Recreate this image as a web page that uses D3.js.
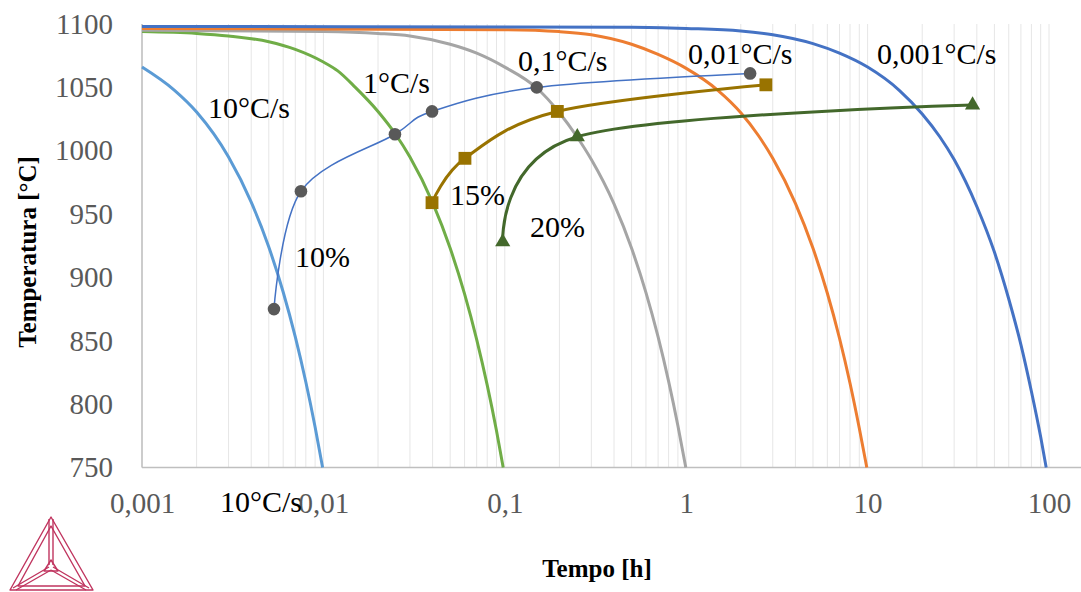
<!DOCTYPE html>
<html><head><meta charset="utf-8">
<script src="https://cdn.jsdelivr.net/npm/d3@7/dist/d3.min.js"></script>
<style>body{margin:0;background:#fff}svg{display:block}</style>
</head><body>
<svg id="chart" width="1081" height="592"></svg>
<script>
// ---------- data ----------
const timeTicks = [0.001, 0.01, 0.1, 1, 10, 100];
const timeTickLabels = ["0,001", "0,01", "0,1", "1", "10", "100"];
const tempTicks = [750, 800, 850, 900, 950, 1000, 1050, 1100];

// cooling curves (time in h, temperature in °C)
const rate10Time = [0.001, 0.0015, 0.002, 0.003, 0.004, 0.005, 0.006, 0.007, 0.008, 0.009, 0.0099];
const rate10Temp = [1066, 1048, 1030.5, 995, 959.5, 924, 888.5, 853, 817.5, 782, 750];

const rate1Time = [0.001, 0.002, 0.003, 0.005, 0.007, 0.01, 0.012, 0.015, 0.02, 0.025, 0.03, 0.04, 0.05, 0.06, 0.07, 0.08, 0.09, 0.098];
const rate1Temp = [1094, 1092.5, 1090.5, 1086, 1080, 1070, 1063, 1050, 1031, 1013, 995, 959, 923, 887, 851, 815, 779, 750];

const rate01Time = [0.001, 0.01, 0.02, 0.03, 0.05, 0.07, 0.1, 0.15, 0.2, 0.25, 0.3, 0.4, 0.5, 0.6, 0.7, 0.8, 0.9, 0.995];
const rate01Temp = [1095, 1094, 1092.5, 1090.5, 1084, 1077, 1066, 1049.5, 1030, 1011, 993, 958, 923, 888, 853, 818, 783, 750];

const rate001Time = [0.001, 0.1, 0.2, 0.3, 0.5, 0.7, 1, 1.5, 2, 2.5, 3, 4, 5, 6, 7, 8, 9, 9.9];
const rate001Temp = [1096.5, 1095.5, 1094, 1091.5, 1084, 1076, 1065, 1047.5, 1030, 1012, 994, 958.5, 923, 887.5, 852, 816.5, 781, 750];

const rate0001Time = [0.001, 0.5, 1, 2, 3, 5, 7, 10, 15, 20, 25, 30, 40, 50, 60, 70, 80, 90, 96.5];
const rate0001Temp = [1098, 1097.5, 1096.5, 1094.5, 1091.5, 1084.5, 1077, 1066, 1047.5, 1029, 1011, 993, 956, 920, 883, 847, 810, 774, 750];

// phase fraction lines
const p10Time = [0.00534, 0.00752, 0.0248, 0.0397, 0.150, 2.25];
const p10Temp = [875, 968, 1013, 1031, 1050, 1061];
const p15Time = [0.0397, 0.0603, 0.1948, 2.75];
const p15Temp = [959, 994, 1031, 1052];
const p20Time = [0.0974, 0.251, 37.9];
const p20Temp = [928, 1011, 1036];

// ---------- layout ----------
const svg = d3.select("#chart");
const FONT = "'Liberation Serif','Times New Roman',serif";
const x = d3.scaleLog().domain([0.001, 1000]).range([142, 142 + 6 * 181.4]);
const y = d3.scaleLinear().domain([750, 1100]).range([467.5, 24]);

// vertical gridlines
svg.append("g").selectAll("line")
  .data(x.ticks().filter(d => x(d) < 1081))
  .join("line")
  .attr("x1", d => x(d)).attr("x2", d => x(d))
  .attr("y1", y(1100)).attr("y2", y(750))
  .attr("stroke", "#e6e6e6").attr("stroke-width", 1);

// axis lines
svg.append("line").attr("x1", 142).attr("x2", 142).attr("y1", y(1100)).attr("y2", y(750))
  .attr("stroke", "#bfbfbf").attr("stroke-width", 1.5);
svg.append("line").attr("x1", 142).attr("x2", 1081).attr("y1", y(750)).attr("y2", y(750))
  .attr("stroke", "#bfbfbf").attr("stroke-width", 1.5);

// axes (labels)
const gy = svg.append("g").attr("transform", "translate(142,0)")
  .call(d3.axisLeft(y).tickValues(tempTicks).tickFormat(d3.format("d")).tickSize(0).tickPadding(29));
gy.select(".domain").remove();
gy.selectAll("text").attr("font-family", FONT).attr("font-size", 29).attr("fill", "#595959");

const gx = svg.append("g").attr("transform", `translate(0,${y(750)})`)
  .call(d3.axisBottom(x).tickValues(timeTicks).tickFormat((d, i) => timeTickLabels[i]).tickSize(0));
gx.select(".domain").remove();
gx.selectAll("text").attr("font-family", FONT).attr("font-size", 29).attr("fill", "#595959")
  .attr("y", 45.5).attr("dy", 0);

// line generators
const mono = d3.line().x(d => x(d[0])).y(d => y(d[1])).curve(d3.curveMonotoneX);
const smooth = d3.line().x(d => x(d[0])).y(d => y(d[1])).curve(d3.curveCardinal.tension(0));
const zip = (a, b) => a.map((v, i) => [v, b[i]]);

const cooling = [
  {t: rate10Time, T: rate10Temp, c: "#5b9bd5"},
  {t: rate1Time, T: rate1Temp, c: "#70ad47"},
  {t: rate01Time, T: rate01Temp, c: "#a5a5a5"},
  {t: rate001Time, T: rate001Temp, c: "#ed7d31"},
  {t: rate0001Time, T: rate0001Temp, c: "#4472c4"}
];
const fractions = [
  {t: p10Time, T: p10Temp, c: "#4472c4", w: 1.5, m: d3.symbolCircle, mc: "#595959", ms: 125},
  {t: p15Time, T: p15Temp, c: "#997300", w: 3, m: d3.symbolSquare, mc: "#997300", ms: 165},
  {t: p20Time, T: p20Temp, c: "#43682b", w: 3, m: d3.symbolTriangle, mc: "#43682b", ms: 100}
];

cooling.forEach(s => {
  svg.append("path").attr("d", mono(zip(s.t, s.T))).attr("fill", "none")
    .attr("stroke", s.c).attr("stroke-width", 3);
});
fractions.forEach(s => {
  svg.append("path").attr("d", smooth(zip(s.t, s.T))).attr("fill", "none")
    .attr("stroke", s.c).attr("stroke-width", s.w);
});
fractions.forEach(s => {
  svg.append("g").selectAll("path").data(zip(s.t, s.T)).join("path")
    .attr("transform", d => `translate(${x(d[0])},${y(d[1])})`)
    .attr("d", d3.symbol().type(s.m).size(s.ms)).attr("fill", s.mc);
});

// annotations
const notes = [
  ["10°C/s", 208, 118], ["1°C/s", 363, 93], ["0,1°C/s", 518, 71], ["0,01°C/s", 688, 64],
  ["0,001°C/s", 877, 64], ["10%", 295, 267], ["15%", 450, 205], ["20%", 530, 237],
  ["10°C/s", 220, 512]
];
svg.append("g").selectAll("text").data(notes).join("text")
  .attr("x", d => d[1]).attr("y", d => d[2]).text(d => d[0])
  .attr("font-family", FONT).attr("font-size", 30).attr("fill", "#000");

// axis titles
svg.append("text").attr("x", 597).attr("y", 577).attr("text-anchor", "middle")
  .attr("font-family", FONT).attr("font-size", 25).attr("font-weight", "bold").text("Tempo [h]");
svg.append("text").attr("transform", "translate(36,252) rotate(-90)").attr("text-anchor", "middle")
  .attr("font-family", FONT).attr("font-size", 25).attr("font-weight", "bold").text("Temperatura [°C]");

// logo
const logo = svg.append("g").attr("fill", "none").attr("stroke", "#c0355f").attr("stroke-width", 1.4)
  .attr("stroke-linejoin", "round");
const A = [51, 517], B = [10, 590], C = [93, 590];
logo.append("path").attr("d", `M${A}L${B}L${C}Z`);
logo.append("path").attr("d", "M51,526L18,586L85,586Z");
logo.append("path").attr("d", "M49,519L49,565M53,519L53,565");
logo.append("path").attr("d", "M13,588L49,567M16,590L51,570M89,588L53,567M86,590L51,570");
logo.append("path").attr("d", "M51,560L44,571L58,571Z");
</script>
</body></html>
